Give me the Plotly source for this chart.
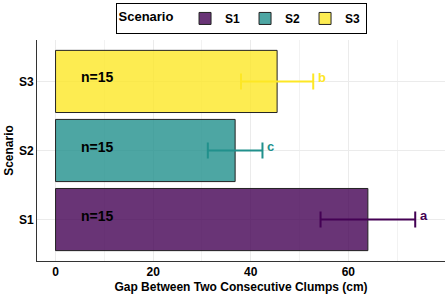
import plotly.graph_objects as go

scenarios = ["S1", "S2", "S3"]
means = [64.0, 36.8, 45.4]
errors = [9.7, 5.6, 7.4]
letters = ["a", "c", "b"]
n_labels = ["n=15", "n=15", "n=15"]
fill_colors = ["rgba(68,1,84,0.8)", "rgba(33,144,140,0.8)", "rgba(253,231,37,0.8)"]
line_colors = ["#440154", "#21908C", "#FDE725"]

FONT = "Liberation Sans, Arial, sans-serif"

fig = go.Figure()
for s, m, e, fc, lc in zip(scenarios, means, errors, fill_colors, line_colors):
    fig.add_trace(go.Bar(
        y=[s], x=[m], orientation="h", name=s, width=0.9,
        marker=dict(color=fc, line=dict(color="#222222", width=1)),
        error_x=dict(type="data", array=[e], color=lc, thickness=2, width=8),
    ))

for s, m, e, let, lc, nl in zip(scenarios, means, errors, letters, line_colors, n_labels):
    fig.add_annotation(x=m + e, y=s, text=let, showarrow=False, xanchor="left",
                       xshift=3, yshift=4,
                       font=dict(family=FONT, size=13, color=lc, weight="bold"))
    fig.add_annotation(x=8.6, y=s, text=nl, showarrow=False, xanchor="center",
                       yshift=4,
                       font=dict(family=FONT, size=14, color="black", weight="bold"))

fig.update_layout(
    width=447, height=295,
    margin=dict(l=37, r=2, t=40, b=34),
    barmode="overlay",
    plot_bgcolor="white", paper_bgcolor="white",
    font=dict(family=FONT, color="black"),
    legend=dict(
        orientation="h", x=0.5, xanchor="center", y=0.99, yanchor="top",
        yref="container",
        title=dict(text="Scenario ", side="left",
                   font=dict(family=FONT, size=13, weight="bold")),
        font=dict(family=FONT, size=12, weight="bold"),
        bordercolor="black", borderwidth=1,
        traceorder="normal", itemwidth=30,
    ),
    xaxis=dict(
        range=[-3.8, 79.8], dtick=20, tick0=0,
        showgrid=True, gridcolor="#ebebeb", gridwidth=1,
        minor=dict(dtick=10, showgrid=True, gridcolor="#f2f2f2", gridwidth=1),
        zeroline=False, showline=True, linecolor="#333333", linewidth=1,
        tickfont=dict(family=FONT, size=12, color="black", weight="bold"),
        title=dict(text="Gap Between Two Consecutive Clumps (cm)", standoff=4,
                   font=dict(family=FONT, size=12, color="black", weight="bold")),
        automargin=False, ticks="",
    ),
    yaxis=dict(
        categoryorder="array", categoryarray=scenarios,
        range=[-0.6, 2.6],
        showgrid=True, gridcolor="#ebebeb", gridwidth=1,
        zeroline=False, showline=True, linecolor="#333333", linewidth=1,
        tickfont=dict(family=FONT, size=12, color="black", weight="bold"),
        title=dict(text="Scenario", standoff=2,
                   font=dict(family=FONT, size=12, color="black", weight="bold")),
        automargin=False, ticks="",
    ),
)

fig.write_html("out.html", config={"displayModeBar": False},
               post_script="document.body.style.margin='0';")
